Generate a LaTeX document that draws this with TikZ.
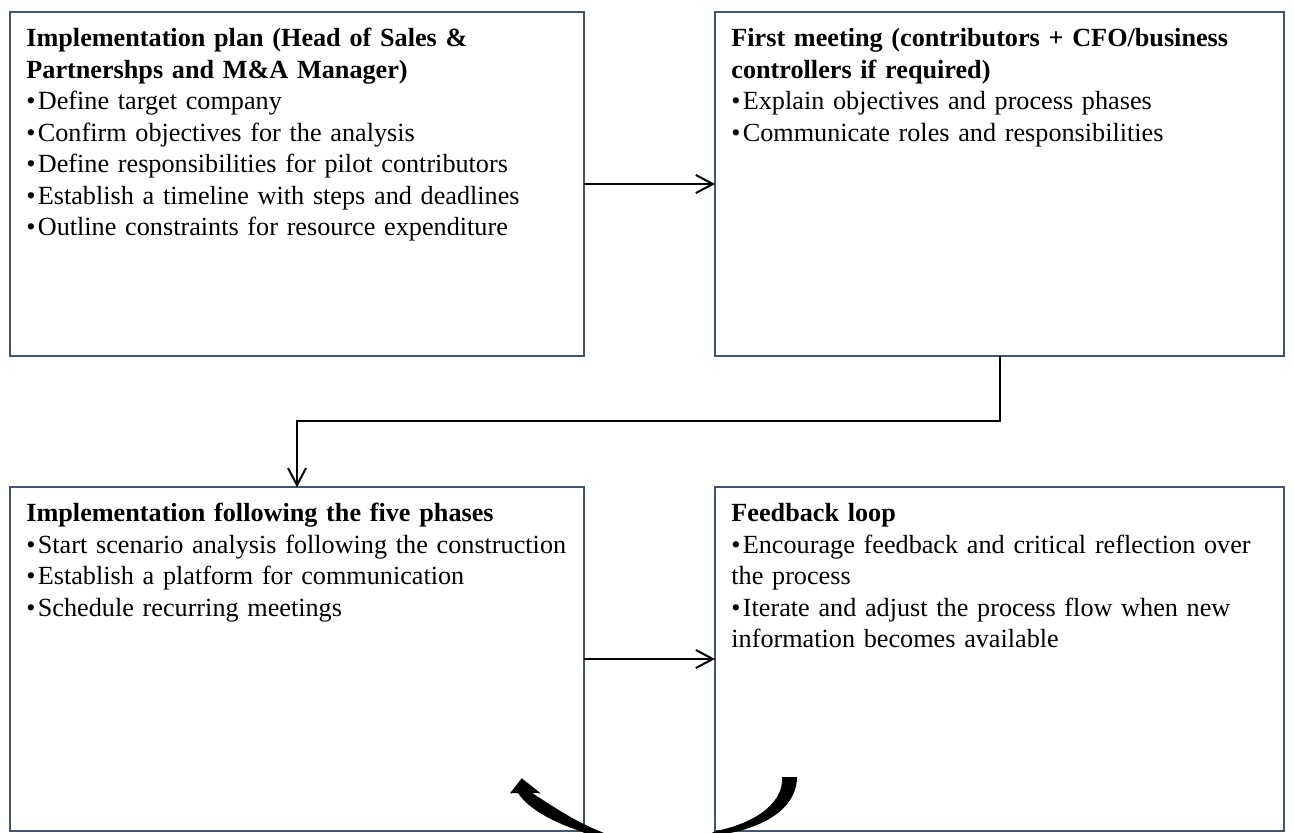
\documentclass[tikz,border=0pt]{standalone}
\usepackage{fontspec}
\setmainfont{Liberation Serif}
\usetikzlibrary{arrows.meta}
\definecolor{boxline}{HTML}{44546A}
\newcommand\bitem[1]{\par\noindent\hangindent=5.75pt\hangafter=1\makebox[5.75pt][l]{\textbullet}#1\par}
\begin{document}
\begin{tikzpicture}[x=0.5pt,y=-0.5pt,
  stagebox/.style={draw=boxline, line width=1pt, rectangle, minimum height=171.8pt, inner sep=0pt, outer sep=0pt},
  stagetext/.style={anchor=north west, inner sep=0pt, text width=278pt, align=left, font=\fontsize{13.1pt}{15.75pt}\selectfont},
  conn/.style={line width=1pt, -{Straight Barb[length=8.5pt,width=9pt]}},
]
\useasboundingbox (0,0) rectangle (1294,832);
\node[stagebox, minimum width=287pt] (plan) at (297,184) {};
\node[stagebox, minimum width=284.5pt] (meet) at (999.5,184) {};
\node[stagebox, minimum width=287pt] (impl) at (297,659) {};
\node[stagebox, minimum width=284.5pt] (loop) at (999.5,659) {};

\node[stagetext] (plantext) at ([xshift=8pt,yshift=-7pt]plan.north west) {\noindent{\bfseries\rule{0pt}{10pt}Implementation plan (Head of Sales \&\\Partnershps and M\&A Manager)\par}
\bitem{Define target company}
\bitem{Confirm objectives for the analysis}
\bitem{Define responsibilities for pilot contributors}
\bitem{Establish a timeline with steps and deadlines}
\bitem{Outline constraints for resource expenditure}};

\node[stagetext] (meettext) at ([xshift=8pt,yshift=-7pt]meet.north west) {\noindent{\bfseries\rule{0pt}{10pt}First meeting (contributors + CFO/business\\controllers if required)\par}
\bitem{Explain objectives and process phases}
\bitem{Communicate roles and responsibilities}};

\node[stagetext] (impltext) at ([xshift=8pt,yshift=-7pt]impl.north west) {\noindent{\bfseries\rule{0pt}{10pt}Implementation following the five phases\par}
\bitem{Start scenario analysis following the construction}
\bitem{Establish a platform for communication}
\bitem{Schedule recurring meetings}};

\node[stagetext] (looptext) at ([xshift=8pt,yshift=-7pt]loop.north west) {\noindent{\bfseries\rule{0pt}{10pt}Feedback loop\par}
\bitem{Encourage feedback and critical reflection over\\the process}
\bitem{Iterate and adjust the process flow when new\\information becomes available}};

\draw[conn] (plan.east) -- (meet.west);
\draw[conn] (impl.east) -- (loop.west);
\coordinate (elbow) at (0,421);
\draw[conn] (meet.south) -- (meet.south |- elbow) -- (impl.north |- elbow) -- (impl.north);

\begin{scope}
\clip (0,0) rectangle (1294,832);
\fill (518,793) -- (510,793.3) -- (521.7,778.3) -- (540.7,793.3) -- (532,793)
  .. controls (548,803) and (568,817) .. (590,827)
  .. controls (640,850) and (675,850) .. (716,831)
  .. controls (760,822) and (784,800) .. (782,777)
  -- (797,777)
  .. controls (797,805) and (770,825) .. (730,833)
  .. controls (690,845) and (620,850) .. (580,831)
  .. controls (550,821) and (528,808) .. (518,793) -- cycle;
\end{scope}
\end{tikzpicture}
\end{document}
